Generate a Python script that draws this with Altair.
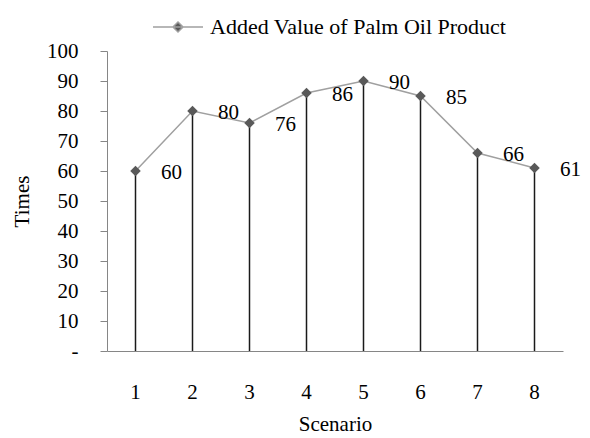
import altair as alt
import pandas as pd

scenarios = [1, 2, 3, 4, 5, 6, 7, 8]
values = [60, 80, 76, 86, 90, 85, 66, 61]
series_name = "Added Value of Palm Oil Product"

df = pd.DataFrame({"Scenario": scenarios, "Times": values, "series": [series_name] * len(values)})

FONT = "Times New Roman, Liberation Serif, serif"

x = alt.X("Scenario:O", scale=alt.Scale(paddingInner=0, paddingOuter=0),
          axis=alt.Axis(labelAngle=0, tickSize=0, labelPadding=30, titlePadding=11,
                        domainColor="#868686", labelFontSize=21, titleFontSize=21,
                        labelFont=FONT, titleFont=FONT, labelColor="black",
                        titleColor="black", titleFontWeight="normal"),
          title="Scenario")
y = alt.Y("Times:Q", scale=alt.Scale(domain=[0, 100], nice=False),
          axis=alt.Axis(values=list(range(0, 101, 10)), tickSize=7, tickColor="#868686",
                        domainColor="#868686", grid=False, labelPadding=22,
                        labelExpr="datum.value == 0 ? '-' : datum.label",
                        labelFontSize=21, titleFontSize=21, labelFont=FONT, titleFont=FONT,
                        labelColor="black", titleColor="black", titleFontWeight="normal",
                        titlePadding=14),
          title="Times")

base = alt.Chart(df)

drops = base.mark_rule(color="#1a1a1a", strokeWidth=1.5).encode(
    x=x, y=y, y2=alt.datum(0))

symbol_path = "M-1,0L1,0M0,-0.2L0.2,0L0,0.2L-0.2,0Z"
line = base.mark_line(strokeWidth=1.5).encode(
    x=x, y=y,
    color=alt.Color("series:N", scale=alt.Scale(range=["#a0a0a0"]),
                    legend=alt.Legend(title=None, orient="none", legendX=45, legendY=-50,
                                      symbolType=symbol_path, symbolSize=2500,
                                      symbolStrokeColor="#8a8a8a", symbolFillColor="#595959",
                                      symbolStrokeWidth=1.5, labelFont=FONT, labelFontSize=22,
                                      labelColor="black", labelOffset=6, labelLimit=0)))

points = base.mark_point(shape="diamond", filled=True, size=110, color="#595959", opacity=1).encode(
    x=x, y=y)

labels = base.mark_text(dx=36, dy=2, font=FONT, fontSize=21, color="black").encode(
    x=x, y=y, text="Times:Q")

chart = alt.layer(drops, line, points, labels).properties(
    width=456, height=300,
    autosize=alt.AutoSizeParams(type="none"),
    padding={"left": 99, "top": 43, "right": 19, "bottom": 87},
).configure_view(stroke=None)

chart.save("out.html", embed_options={"renderer": "svg", "actions": False})
